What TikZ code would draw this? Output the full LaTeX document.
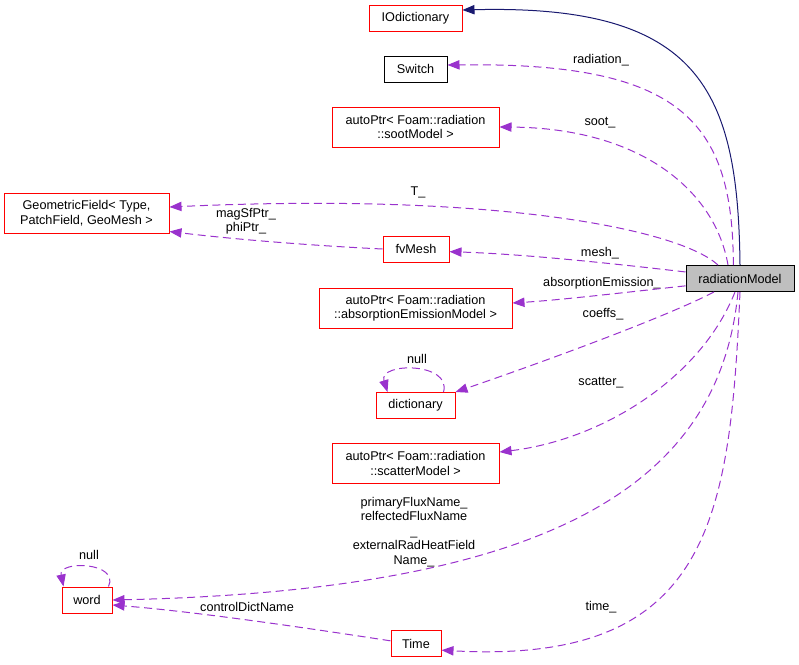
\documentclass[tikz,border=0pt]{standalone}
\usepackage{fontspec}
\setmainfont{Liberation Sans}
\definecolor{EdgePurple}{HTML}{9A32CD}
\definecolor{BaseNavy}{HTML}{191970}
\usetikzlibrary{arrows.meta}

\begin{document}
\begin{tikzpicture}[x=0.75pt,y=-0.75pt,
  box/.style={draw=red,line width=0.75pt,fill=white,align=center,inner sep=0pt,minimum height=19.5pt,font=\fontsize{9.5}{10.9}\selectfont},
  tall/.style={minimum height=30pt},
  bw/.style={minimum width=#1*0.75pt},
  lbl/.style={align=center,inner sep=0pt,font=\fontsize{9.5}{10.9}\selectfont},
  arr/.style={-{Triangle[length=9pt,width=7pt]},EdgePurple,line width=0.75pt,dash pattern=on 6pt off 3.5pt},
  inh/.style={-{Triangle[length=9pt,width=7pt]},BaseNavy,line width=0.75pt}
]
  \useasboundingbox (0,0) rectangle (799,664);
  \node[box,bw=93] (iod) at (415.5,18) {IOdictionary};
  \node[box,bw=63,draw=black] (sw) at (415.5,69) {Switch};
  \node[box,tall,bw=167] (sm) at (415.5,127) {autoPtr< Foam::radiation\\::sootModel >};
  \node[box,tall,bw=165] (gf) at (86.5,213) {GeometricField< Type,\\ PatchField, GeoMesh >};
  \node[box,bw=66] (fv) at (416,249) {fvMesh};
  \node[box,bw=108,draw=black,fill=gray!50] (rm) at (740,278.5) {radiationModel};
  \node[box,tall,bw=193] (ae) at (415.5,308) {autoPtr< Foam::radiation\\::absorptionEmissionModel >};
  \node[box,bw=79] (dic) at (415.5,405.5) {dictionary};
  \node[box,tall,bw=167] (sc) at (415.5,463.5) {autoPtr< Foam::radiation\\::scatterModel >};
  \node[box,bw=50] (wd) at (87,600) {word};
  \node[box,bw=50] (tm) at (416,643.5) {Time};
  % edge labels
  \node[lbl] (l-rad) at (601,60) {radiation\_};
  \node[lbl] (l-soot) at (600,123) {soot\_};
  \node[lbl] (l-t) at (418,192) {T\_};
  \node[lbl] (l-mag) at (246,221) {magSfPtr\_\\phiPtr\_};
  \node[lbl] (l-mesh) at (600,253) {mesh\_};
  \node[lbl] (l-abs) at (602,283) {absorptionEmission\_};
  \node[lbl] (l-coef) at (603,314) {coeffs\_};
  \node[lbl] (l-null1) at (417,359) {null};
  \node[lbl] (l-scat) at (601,383) {scatter\_};
  \node[lbl] (l-flux) at (414,532) {primaryFluxName\_\\relfectedFluxName\\\_\\externalRadHeatField\\Name\_};
  \node[lbl] (l-null2) at (89,555) {null};
  \node[lbl] (l-ctrl) at (247,607) {controlDictName};
  \node[lbl] (l-time) at (601,607) {time\_};
  % edges
  \draw[inh] (rm.north) .. controls (738,90) and (700,4) .. ([yshift=6pt]iod.east);
  \draw[arr] ([xshift=-5pt]rm.north) .. controls (733,120) and (680,62) .. ([yshift=3pt]sw.east);
  \draw[arr] ([xshift=-9pt]rm.north) .. controls (715,190) and (640,128) .. (sm.east);
  \draw[arr] ([xshift=-16.5pt]rm.north) .. controls (680,230) and (500,192) .. ([yshift=4.5pt]gf.east);
  \draw[arr] ([yshift=4.9pt]rm.west) .. controls (600,262) and (520,254) .. ([yshift=-2pt]fv.east);
  \draw[arr] (fv.west) .. controls (320,246) and (240,240) .. ([yshift=1.5pt]gf.south east);
  \draw[arr] ([yshift=-5.5pt]rm.west) .. controls (620,293) and (560,300) .. ([yshift=3.75pt]ae.east);
  \draw[arr] ([xshift=-19.5pt]rm.south) .. controls (660,320) and (520,370) .. (dic.north east);
  \draw[arr] ([xshift=-9pt]dic.north east) .. controls (452,362) and (378,362) .. ([xshift=9pt]dic.north west);
  \draw[arr] ([xshift=-3.75pt]rm.south) .. controls (700,380) and (600,440) .. ([yshift=8.6pt]sc.east);
  \draw[arr] ([xshift=-1.5pt]rm.south) .. controls (720,480) and (560,590) .. (wd.east);
  \draw[arr] ([xshift=-3pt]wd.north east) .. controls (120,562) and (58,560) .. ([xshift=1.5pt]wd.north west);
  \draw[arr] (rm.south) .. controls (730,520) and (710,665) .. ([yshift=-5pt]tm.east);
  \draw[arr] ([yshift=2pt]tm.west) .. controls (320,630) and (200,612) .. ([yshift=-3.75pt]wd.east);
\end{tikzpicture}
\end{document}
